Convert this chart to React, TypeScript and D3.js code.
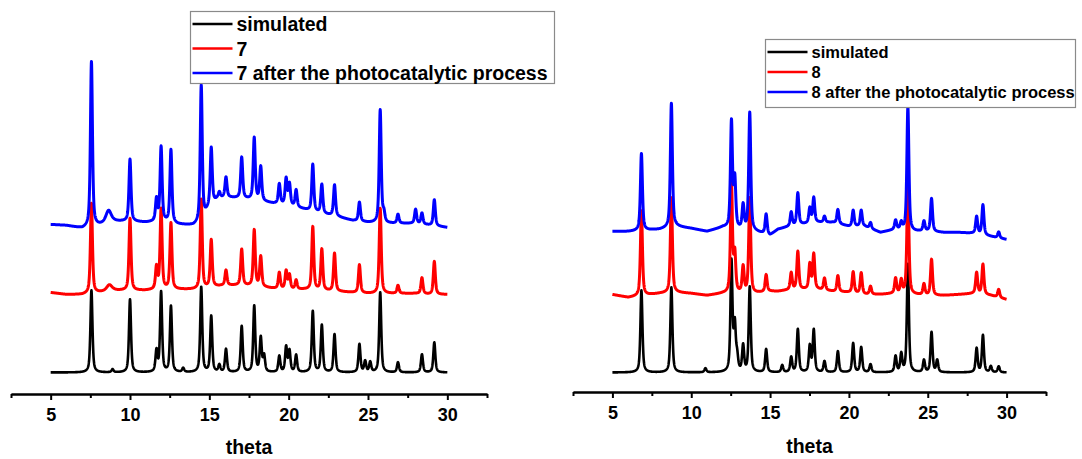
import React, { useEffect, useRef } from 'react';
import * as d3 from 'd3';

// ---------- data ----------
const thetaTicks = [5, 10, 15, 20, 25, 30];
const thetaMinorTicks = [2.5, 7.5, 12.5, 17.5, 22.5, 27.5, 32.5];
const axisDomain: [number, number] = [2.5, 32.5];
const scanRange: [number, number] = [5, 30];

// peaks: [2theta, height (a.u.), optional FWHM]
const sim7Peaks: number[][] = [
  [7.57, 82], [8.9, 3], [10.0, 73], [11.67, 21], [11.96, 80], [12.58, 66], [13.35, 4],
  [14.49, 85], [15.12, 56], [15.63, 7], [16.05, 23], [17.04, 46], [17.83, 66], [18.24, 34],
  [18.45, 16], [19.41, 16], [19.84, 25], [20.05, 21], [20.47, 17], [21.52, 61], [22.09, 47],
  [22.89, 38], [24.46, 28], [24.82, 11], [25.14, 10], [25.77, 80], [26.89, 10], [28.4, 18], [29.18, 30],
];
const exp7Peaks: number[][] = [
  [7.57, 90], [8.7, 6, 0.4], [10.0, 72], [11.67, 22], [11.96, 80], [12.58, 66], [14.49, 90],
  [15.12, 47], [16.05, 15], [17.04, 36], [17.83, 56], [18.24, 30], [19.41, 16], [19.84, 18],
  [20.05, 14], [20.47, 9], [21.52, 63], [22.09, 41], [22.89, 38], [24.46, 28], [25.77, 85],
  [26.89, 8], [28.4, 16], [29.18, 33],
];
const after7Peaks: number[][] = [
  [7.57, 165], [8.65, 12, 0.4], [10.0, 62], [11.67, 22], [11.96, 74], [12.58, 73], [14.49, 137],
  [15.12, 57], [15.63, 6], [16.05, 20], [17.04, 41], [17.83, 62], [18.24, 34], [19.41, 20],
  [19.84, 26], [20.05, 21], [20.47, 17], [21.52, 47], [22.09, 29], [22.89, 31], [24.46, 19],
  [25.77, 113], [26.0, 9], [26.89, 9], [28.0, 14], [28.4, 11], [29.18, 26],
];
const sim8Peaks: number[][] = [
  [6.84, 82], [8.74, 85], [10.9, 4], [12.55, 110], [12.76, 45], [12.91, 14], [13.29, 26],
  [13.71, 85], [14.75, 23], [15.77, 7], [16.34, 15], [16.76, 43], [17.52, 26], [17.77, 42],
  [18.45, 11], [19.3, 21], [20.27, 29], [20.78, 25], [21.37, 8], [22.96, 16], [23.32, 18],
  [23.74, 108], [24.76, 12], [25.24, 40], [25.6, 12], [28.1, 24], [28.5, 37], [29.0, 6], [29.5, 6],
];
const exp8Peaks: number[][] = [
  [6.84, 85], [8.74, 95], [12.55, 108], [12.76, 38], [13.29, 26], [13.71, 95], [14.75, 17],
  [16.34, 17], [16.76, 38], [17.52, 25], [17.77, 35], [18.45, 12], [19.3, 16], [20.27, 21],
  [20.78, 21], [21.37, 8], [22.96, 15], [23.32, 13], [23.74, 110], [24.76, 11], [25.24, 36],
  [28.1, 21], [28.5, 30], [29.5, 8],
];
const after8Peaks: number[][] = [
  [6.84, 77], [8.74, 124], [12.55, 106], [12.76, 48], [13.29, 24], [13.71, 118], [14.75, 20],
  [16.34, 14], [16.76, 32], [17.52, 15], [17.77, 25], [18.45, 6], [19.3, 14], [20.27, 16],
  [20.78, 16], [21.37, 6], [22.96, 9], [23.32, 7], [23.74, 124], [24.76, 10], [25.24, 33],
  [28.1, 17], [28.5, 30], [29.5, 6],
];

// background (a.u., relative to each trace's offset)
const baseTheta = [5, 6, 7, 8, 9, 10, 11, 12, 13, 14, 14.5, 15, 15.5, 16, 17, 18, 19, 20, 21, 22, 23, 24, 25, 26, 27, 28, 29, 30];
const exp7Base = [2, 0, 0, 2, 4, 4, 4, 5, 5, 5, 5, 7, 8, 9, 9, 8, 6, 5, 5, 4, 3, 2, 1, 1, 1, 1, 0, 0];
const after7Base = [1, 0, -3, 0, 4, 4, 3, 4, 1, 0, 3, 18, 26, 28, 27, 25, 22, 20, 16, 12, 9, 5, 3, 2, 2, 2, 0, -2];
const exp8Base = [3, 0, 2, 4, 5, 4, 2, 4, 4, 4, 5, 6, 6, 7, 8, 8, 6, 5, 3, 3, 4, 3, 2, 2, 3, 4, 2, -2];
const after8Base = [0, 0, 1, 2, 5, 3, 0, 4, 2, 0, -2, -4, 2, 4, 7, 9, 9, 5, 5, -1, 2, 0, 0, -1, -1, -2, -5, -8];

const offsets7 = [0, 78, 147];
const offsets8 = [0, 75, 141];
const legend7 = ['simulated', '7', '7 after the photocatalytic process'];
const legend8 = ['simulated', '8', '8 after the photocatalytic process'];
const seriesColors = ['#000000', '#ff0000', '#0000ff'];
const xTitle = 'theta';

// ---------- helpers ----------
const FWHM = 0.15;
const ETA = 0.6;
function profile(peaks: number[][], base: number[] | null, offset: number): [number, number][] {
  const baseScale = base ? d3.scaleLinear().domain(baseTheta).range(base) : null;
  const pts: [number, number][] = [];
  const n = Math.round((scanRange[1] - scanRange[0]) / 0.01);
  for (let i = 0; i <= n; i++) {
    const x = scanRange[0] + i * 0.01;
    let y = offset + (baseScale ? baseScale(x) : 0);
    for (const p of peaks) {
      const w = p[2] ?? FWHM;
      const u = (x - p[0]) / w;
      const L = 1 / (1 + 4 * u * u);
      const G = Math.exp(-4 * Math.LN2 * u * u);
      y += p[1] * (ETA * L + (1 - ETA) * G);
    }
    pts.push([x, y]);
  }
  return pts;
}

const FONT = '"Liberation Sans", Arial, Helvetica, sans-serif';

function Axis({ x, y }: { x: d3.ScaleLinear<number, number>; y: number }) {
  const ref = useRef<SVGGElement>(null);
  useEffect(() => {
    const g = d3.select(ref.current!);
    g.selectAll('*').remove();
    const major = d3.axisBottom(x).tickValues(thetaTicks).tickSize(6).tickSizeOuter(0).tickPadding(8).tickFormat(d3.format('d'));
    g.call(major as any);
    const minor = d3.axisBottom(x).tickValues(thetaMinorTicks).tickSize(4).tickSizeOuter(0).tickFormat(() => '');
    g.append('g').call(minor as any);
    g.selectAll('path.domain').attr('stroke-width', 2).attr('stroke', '#000');
    g.selectAll('.tick line').attr('stroke-width', 2).attr('stroke', '#000');
    g.selectAll('.tick text')
      .attr('font-family', FONT)
      .attr('font-weight', 'bold')
      .attr('font-size', 18)
      .attr('fill', '#000');
  }, [x, y]);
  return <g ref={ref} transform={`translate(0,${y})`} />;
}

function Panel({
  x0, x1, axisY, titleY, sets, offsets, legend, lg,
}: {
  x0: number; x1: number; axisY: number; titleY: number;
  sets: { peaks: number[][]; base: number[] | null }[];
  offsets: number[]; legend: string[];
  lg: { x: number; y: number; w: number; h: number; rows: number[]; fs: number };
}) {
  const x = d3.scaleLinear().domain(axisDomain).range([x0, x1]);
  const y = d3.scaleLinear().domain([0, 360]).range([372.5, 12.5]);
  const line = d3.line<[number, number]>().x((d) => x(d[0])).y((d) => y(d[1]));
  return (
    <g>
      {sets.map((s, i) => (
        <path key={i} d={line(profile(s.peaks, s.base, offsets[i])) || ''} fill="none"
          stroke={seriesColors[i]} strokeWidth={i === 0 ? 2.6 : 3} strokeLinejoin="round" />
      ))}
      <Axis x={x} y={axisY} />
      <text x={(x0 + x1) / 2} y={titleY} textAnchor="middle" fontFamily={FONT} fontWeight="bold" fontSize={19.5}>{xTitle}</text>
      <g>
        <rect x={lg.x} y={lg.y} width={lg.w} height={lg.h} fill="#fff" stroke="#8a8a8a" strokeWidth={1.2} />
        {legend.map((t, i) => (
          <g key={t}>
            <line x1={lg.x + 2} x2={lg.x + 42} y1={lg.rows[i]} y2={lg.rows[i]} stroke={seriesColors[i]} strokeWidth={2.5} />
            <text x={lg.x + 46} y={lg.rows[i]} dy="0.36em" fontFamily={FONT} fontWeight="bold" fontSize={lg.fs}>{t}</text>
          </g>
        ))}
      </g>
    </g>
  );
}

export default function App() {
  return (
    <svg width={1082} height={459} style={{ position: 'absolute', left: 0, top: 0, background: '#fff' }}>
      <Panel x0={11} x1={487} axisY={394} titleY={454}
        sets={[{ peaks: sim7Peaks, base: null }, { peaks: exp7Peaks, base: exp7Base }, { peaks: after7Peaks, base: after7Base }]}
        offsets={offsets7} legend={legend7}
        lg={{ x: 190.5, y: 11.5, w: 364, h: 72, rows: [24, 48.5, 73], fs: 19.5 }} />
      <Panel x0={573} x1={1046} axisY={392} titleY={453}
        sets={[{ peaks: sim8Peaks, base: null }, { peaks: exp8Peaks, base: exp8Base }, { peaks: after8Peaks, base: after8Base }]}
        offsets={offsets8} legend={legend8}
        lg={{ x: 765.5, y: 39.5, w: 310, h: 68, rows: [52, 72, 92], fs: 16.5 }} />
    </svg>
  );
}
